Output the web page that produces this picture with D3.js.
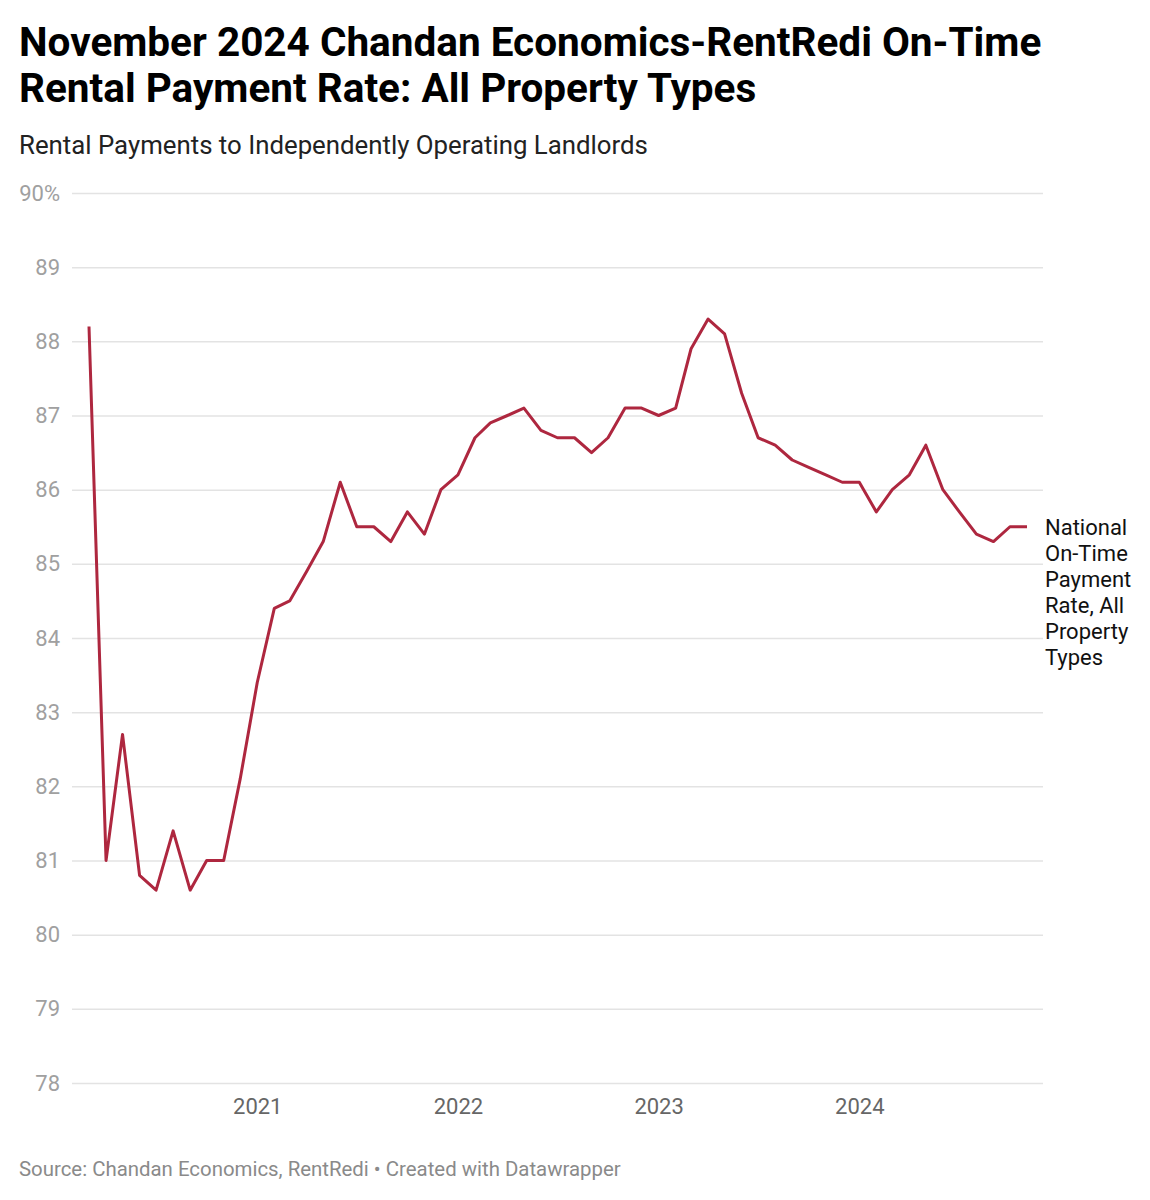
<!DOCTYPE html>
<html lang="en">
<head>
    <meta charset="UTF-8">
    <title>On-Time Rental Payment Rate</title>
    <script src="https://cdnjs.cloudflare.com/ajax/libs/d3/7.9.0/d3.min.js"></script>
    <style>
        body { margin: 0; background: #fff; font-family: Roboto, "Noto Sans", sans-serif; }
        #chart svg { display: block; }
    </style>
</head>
<body>
<div id="chart"></div>
<script>
    // monthly values, March 2020 .. November 2024
    const startMonth = '2020-03';
    const rates = [
        88.2, 81.0, 82.7, 80.8, 80.6, 81.4, 80.6, 81.0, 81.0, 82.1,
        83.4, 84.4, 84.5, 84.9, 85.3, 86.1, 85.5, 85.5, 85.3, 85.7, 85.4, 86.0,
        86.2, 86.7, 86.9, 87.0, 87.1, 86.8, 86.7, 86.7, 86.5, 86.7, 87.1, 87.1,
        87.0, 87.1, 87.9, 88.3, 88.1, 87.3, 86.7, 86.6, 86.4, 86.3, 86.2, 86.1,
        86.1, 85.7, 86.0, 86.2, 86.6, 86.0, 85.7, 85.4, 85.3, 85.5, 85.5
    ];
    const yTicks = [78, 79, 80, 81, 82, 83, 84, 85, 86, 87, 88, 89, 90];
    const xTickYears = [2021, 2022, 2023, 2024];
    const lineLabel = ['National', 'On-Time', 'Payment', 'Rate, All', 'Property', 'Types'];

    const title = ['November 2024 Chandan Economics-RentRedi On-Time', 'Rental Payment Rate: All Property Types'];
    const subtitle = 'Rental Payments to Independently Operating Landlords';
    const source = 'Source: Chandan Economics, RentRedi \u2022 Created with Datawrapper';

    const parseMonth = d3.timeParse('%Y-%m');
    const start = parseMonth(startMonth);
    const data = rates.map((v, i) => ({ date: d3.timeMonth.offset(start, i), value: v }));

    const width = 1150, height = 1200;
    const svg = d3.select('#chart').append('svg')
        .attr('width', width)
        .attr('height', height);

    // header
    svg.append('g').selectAll('text')
        .data(title)
        .enter().append('text')
        .attr('x', 19)
        .attr('y', (d, i) => 56 + i * 46)
        .attr('font-size', 40.5)
        .attr('font-weight', 700)
        .attr('fill', '#000')
        .text(d => d);

    svg.append('text')
        .attr('x', 19)
        .attr('y', 154)
        .attr('font-size', 25.8)
        .attr('fill', '#222')
        .text(subtitle);

    const x = d3.scaleTime()
        .domain(d3.extent(data, d => d.date))
        .range([89, 1027]);

    const y = d3.scaleLinear()
        .domain([78, 90])
        .range([1083, 193]);

    // gridlines + y labels
    const yAxis = svg.append('g')
        .attr('transform', 'translate(72,0)')
        .call(d3.axisLeft(y)
            .tickValues(yTicks)
            .tickSize(-(1043 - 72))
            .tickPadding(12)
            .tickFormat(d => d === 90 ? d + '%' : d));
    yAxis.select('.domain').remove();
    yAxis.selectAll('.tick line').attr('stroke', '#e3e3e3').attr('stroke-width', 1.5);
    yAxis.selectAll('.tick text')
        .attr('fill', '#a0a0a0')
        .attr('font-size', 22)
        .attr('font-family', 'Roboto, sans-serif');

    // x labels
    const xAxis = svg.append('g')
        .attr('transform', 'translate(0,1083)')
        .call(d3.axisBottom(x)
            .tickValues(xTickYears.map(yr => new Date(yr, 0, 1)))
            .tickSize(0)
            .tickPadding(15)
            .tickFormat(d3.timeFormat('%Y')));
    xAxis.select('.domain').remove();
    xAxis.selectAll('.tick text')
        .attr('fill', '#666')
        .attr('font-size', 22)
        .attr('font-family', 'Roboto, sans-serif');

    // the line
    const line = d3.line()
        .x(d => x(d.date))
        .y(d => y(d.value));

    svg.append('path')
        .datum(data)
        .attr('d', line)
        .attr('fill', 'none')
        .attr('stroke', '#ae273f')
        .attr('stroke-width', 3)
        .attr('stroke-linejoin', 'round');

    // label at end of line
    const last = data[data.length - 1];
    svg.append('g').selectAll('text')
        .data(lineLabel)
        .enter().append('text')
        .attr('x', x(last.date) + 18)
        .attr('y', (d, i) => y(last.value) + 8 + i * 26)
        .attr('font-size', 22)
        .attr('fill', '#111')
        .text(d => d);

    // footer
    svg.append('text')
        .attr('x', 19)
        .attr('y', 1176)
        .attr('font-size', 20.4)
        .attr('fill', '#8a8a8a')
        .text(source);
</script>
</body>
</html>
